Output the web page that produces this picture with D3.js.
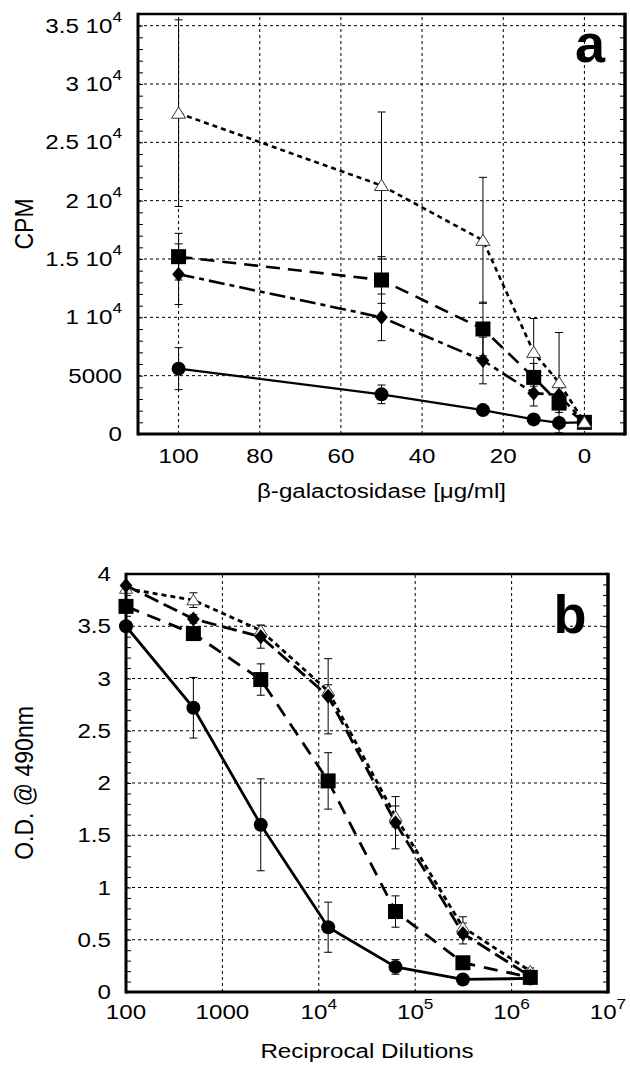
<!DOCTYPE html>
<html><head><meta charset="utf-8">
<script src="https://cdn.jsdelivr.net/npm/d3@7"></script>
<style>
body{margin:0;background:#fff}
svg{display:block}
text{font-family:"Liberation Sans",Arial,Helvetica,sans-serif;fill:#000}
</style>
</head><body>
<svg id="chart" width="630" height="1067"></svg>
<script>
// ---------- Panel a data ----------
const aDose = [100, 50, 25, 12.5, 6.25, 0];
const aCircle = [5600, 3400, 2050, 1250, 950, 1000];
const aCircleErr = [1800, 800, 0, 0, 0, 0];
const aDiamond = [13700, 10000, 6300, 3500, 3350, 1000];
const aDiamondErr = [2600, 2000, 2000, 1100, 0, 0];
const aSquare = [15200, 13200, 9000, 4850, 2650, 1000];
const aSquareErr = [2000, 2000, 2300, 1200, 800, 0];
const aTriangle = [27500, 21300, 16600, 7000, 4400, 1000];
const aTriangleErr = [8000, 6300, 5400, 2900, 4300, 0];
const aXTicks = [100, 80, 60, 40, 20, 0];
const aXTickLabels = ["100", "80", "60", "40", "20", "0"];
const aYTicks = [0, 5000, 10000, 15000, 20000, 25000, 30000, 35000];
const aYTickLabels = ["0", "5000", "1 10^4", "1.5 10^4", "2 10^4", "2.5 10^4", "3 10^4", "3.5 10^4"];
const aXTitle = "β-galactosidase [μg/ml]";
const aYTitle = "CPM";

// ---------- Panel b data ----------
const bDilution = [100, 500, 2500, 12500, 62500, 312500, 1562500];
const bCircle = [3.5, 2.72, 1.6, 0.62, 0.24, 0.12, 0.13];
const bCircleErr = [0, 0.29, 0.44, 0.24, 0.07, 0, 0];
const bSquare = [3.69, 3.43, 2.99, 2.02, 0.77, 0.28, 0.14];
const bSquareErr = [0, 0, 0.15, 0.27, 0.15, 0, 0];
const bDiamond = [3.89, 3.57, 3.4, 2.83, 1.62, 0.56, 0.15];
const bDiamondErr = [0, 0.04, 0.11, 0.36, 0.25, 0.1, 0];
const bTriangle = [3.86, 3.75, 3.46, 2.88, 1.68, 0.62, 0.2];
const bTriangleErr = [0, 0.07, 0.05, 0.06, 0.1, 0.1, 0.03];
const bXTicks = [100, 1000, 1e4, 1e5, 1e6, 1e7];
const bXTickLabels = ["100", "1000", "10^4", "10^5", "10^6", "10^7"];
const bYTicks = [0, 0.5, 1, 1.5, 2, 2.5, 3, 3.5, 4];
const bYTickLabels = ["0", "0.5", "1", "1.5", "2", "2.5", "3", "3.5", "4"];
const bXTitle = "Reciprocal Dilutions";
const bYTitle = "O.D. @ 490nm";

// ---------- helpers ----------
const SX = 1.15; // horizontal stretch of the original's text
const svg = d3.select("#chart");

const symSquare = {draw(c, s){ c.rect(-s/2, -s/2, s, s); }};
const symCircle = {draw(c, s){ c.moveTo(s/2, 0); c.arc(0, 0, s/2, 0, 2*Math.PI); c.closePath(); }};
const symDiamond = {draw(c, s){ const w = s*0.85; c.moveTo(0, -s/2); c.lineTo(w/2, 0); c.lineTo(0, s/2); c.lineTo(-w/2, 0); c.closePath(); }};
const symTriangle = {draw(c, s){ const h = s*0.8; c.moveTo(0, -h*0.55); c.lineTo(s/2, h*0.45); c.lineTo(-s/2, h*0.45); c.closePath(); }};

function label(g, x, y, str, anchor, size, supDy) {
  const t = g.append("text")
    .attr("transform", `translate(${x},${y}) scale(${SX},1)`)
    .attr("text-anchor", anchor)
    .style("font-size", size + "px");
  const parts = str.split("^");
  t.append("tspan").text(parts[0]);
  if (parts.length > 1) {
    t.append("tspan").attr("dy", supDy).style("font-size", "15px").text(parts[1]);
  }
  return t;
}

function panel(opt) {
  const g = svg.append("g");
  const x = opt.x, y = opt.y;
  const [x0, x1] = x.range(), [y0, y1] = y.range(); // y0 bottom, y1 top

  // grid
  g.append("g").selectAll("line").data(opt.xGrid).join("line")
    .attr("x1", d => x(d)).attr("x2", d => x(d)).attr("y1", y0).attr("y2", y1)
    .attr("stroke", "#000").attr("stroke-width", 1).attr("stroke-dasharray", "3,3");
  g.append("g").selectAll("line").data(opt.yGrid).join("line")
    .attr("y1", d => y(d)).attr("y2", d => y(d)).attr("x1", x0).attr("x2", x1)
    .attr("stroke", "#000").attr("stroke-width", 1).attr("stroke-dasharray", "3,3");

  // minor ticks (inward) on left and right
  const left = g.append("g").attr("transform", `translate(${x0},0)`)
    .call(d3.axisRight(y).tickValues(opt.minor).tickSize(5).tickFormat(""));
  const right = g.append("g").attr("transform", `translate(${x1},0)`)
    .call(d3.axisLeft(y).tickValues(opt.minor).tickSize(5).tickFormat(""));
  [left, right].forEach(a => { a.select(".domain").remove(); a.selectAll("line").attr("stroke", "#000").attr("stroke-width", 1); });

  // series
  opt.series.forEach(s => {
    const line = d3.line().x((d, i) => x(opt.xs[i])).y(d => y(d));
    g.append("path").datum(s.values)
      .attr("d", line).attr("fill", "none").attr("stroke", "#000")
      .attr("stroke-width", s.width).attr("stroke-dasharray", s.dash);
  });
  opt.series.forEach(s => {
    const eg = g.append("g").attr("stroke", "#000").attr("stroke-width", 1);
    s.values.forEach((v, i) => {
      const e = s.err[i];
      if (!e) return;
      const cx = x(opt.xs[i]);
      const ya = Math.min(y(v - e), y0), yb = Math.max(y(v + e), y1);
      eg.append("line").attr("x1", cx).attr("x2", cx).attr("y1", ya).attr("y2", yb);
      if (y(v - e) <= y0) eg.append("line").attr("x1", cx - 4).attr("x2", cx + 4).attr("y1", ya).attr("y2", ya);
      eg.append("line").attr("x1", cx - 4).attr("x2", cx + 4).attr("y1", yb).attr("y2", yb);
    });
  });
  opt.order.forEach(k => {
    const s = opt.series.find(d => d.key === k);
    g.append("g").selectAll("path").data(s.values).join("path")
      .attr("transform", (d, i) => `translate(${x(opt.xs[i])},${y(d)})`)
      .attr("d", d3.symbol().type(s.sym).size(s.size))
      .attr("fill", s.fill).attr("stroke", s.stroke).attr("stroke-width", s.sw);
  });

  // frame
  const fr = g.append("g").attr("stroke", "#000");
  fr.append("line").attr("x1", x0).attr("x2", x1).attr("y1", y1).attr("y2", y1).attr("stroke-width", 2.5);
  fr.append("line").attr("x1", x0).attr("x2", x1).attr("y1", y0).attr("y2", y0).attr("stroke-width", 3);
  fr.append("line").attr("x1", x0).attr("x2", x0).attr("y1", y0 + 1.5).attr("y2", y1 - 1.25).attr("stroke-width", 3);
  fr.append("line").attr("x1", x1).attr("x2", x1).attr("y1", y0 + 1.5).attr("y2", y1 - 1.25).attr("stroke-width", 3.5);

  // tick labels
  opt.xTicks.forEach((t, i) => label(g, x(t), opt.xLabelY, opt.xTickLabels[i], "middle", 21, -10));
  opt.yTicks.forEach((t, i) => label(g, opt.yLabelX, y(t) + 7, opt.yTickLabels[i], "end", 21, -11));

  // titles
  label(g, (x0 + x1) / 2, opt.xTitleY, opt.xTitle, "middle", 21, 0);
  g.append("text")
    .attr("transform", `translate(${opt.yTitleX},${(y0 + y1) / 2}) scale(${SX},1) rotate(-90)`)
    .attr("text-anchor", "middle").style("font-size", "23px").text(opt.yTitle);

  // panel letter
  g.append("text").attr("x", opt.letterX).attr("y", opt.letterY)
    .attr("text-anchor", "middle").style("font-size", "54px").style("font-weight", "bold").text(opt.letter);
}

// ---------- Panel a ----------
const ax = d3.scaleLinear().domain([110, -10]).range([138, 625]);
const ay = d3.scaleLinear().domain([0, 36000]).range([434, 14]);
panel({
  x: ax, y: ay, xs: aDose,
  xGrid: aXTicks, yGrid: aYTicks.filter(d => d > 0),
  minor: d3.range(0, 36001, 1000),
  series: [
    {key: "circle", values: aCircle, err: aCircleErr, dash: null, width: 2.2, sym: symCircle, size: 14, fill: "#000", stroke: "none", sw: 0},
    {key: "diamond", values: aDiamond, err: aDiamondErr, dash: "16,5,5,5", width: 2.6, sym: symDiamond, size: 15, fill: "#000", stroke: "none", sw: 0},
    {key: "square", values: aSquare, err: aSquareErr, dash: "14,8", width: 2.6, sym: symSquare, size: 15, fill: "#000", stroke: "none", sw: 0},
    {key: "triangle", values: aTriangle, err: aTriangleErr, dash: "5,4", width: 2.6, sym: symTriangle, size: 14, fill: "#fff", stroke: "#333", sw: 1}
  ],
  order: ["circle", "diamond", "square", "triangle"],
  xTicks: aXTicks, xTickLabels: aXTickLabels, xLabelY: 463,
  yTicks: aYTicks, yTickLabels: aYTickLabels, yLabelX: 122,
  xTitle: aXTitle, xTitleY: 498, yTitle: aYTitle, yTitleX: 33,
  letter: "a", letterX: 590, letterY: 62
});

// ---------- Panel b ----------
const bx = d3.scaleLog().domain([100, 1e7]).range([126, 608]);
const by = d3.scaleLinear().domain([0, 4]).range([992, 574]);
panel({
  x: bx, y: by, xs: bDilution,
  xGrid: bXTicks.slice(1, -1), yGrid: bYTicks.slice(1, -1),
  minor: d3.range(0, 41).map(d => d / 10),
  series: [
    {key: "circle", values: bCircle, err: bCircleErr, dash: null, width: 2.8, sym: symCircle, size: 14, fill: "#000", stroke: "none", sw: 0},
    {key: "square", values: bSquare, err: bSquareErr, dash: "14,9", width: 2.8, sym: symSquare, size: 15, fill: "#000", stroke: "none", sw: 0},
    {key: "diamond", values: bDiamond, err: bDiamondErr, dash: "15,6", width: 2.8, sym: symDiamond, size: 15, fill: "#000", stroke: "none", sw: 0},
    {key: "triangle", values: bTriangle, err: bTriangleErr, dash: "5,4", width: 2.8, sym: symTriangle, size: 13, fill: "#fff", stroke: "#444", sw: 1}
  ],
  order: ["triangle", "diamond", "circle", "square"],
  xTicks: bXTicks, xTickLabels: bXTickLabels, xLabelY: 1019,
  yTicks: bYTicks, yTickLabels: bYTickLabels, yLabelX: 111,
  xTitle: bXTitle, xTitleY: 1058, yTitle: bYTitle, yTitleX: 33,
  letter: "b", letterX: 570, letterY: 633
});
</script>
</body></html>
